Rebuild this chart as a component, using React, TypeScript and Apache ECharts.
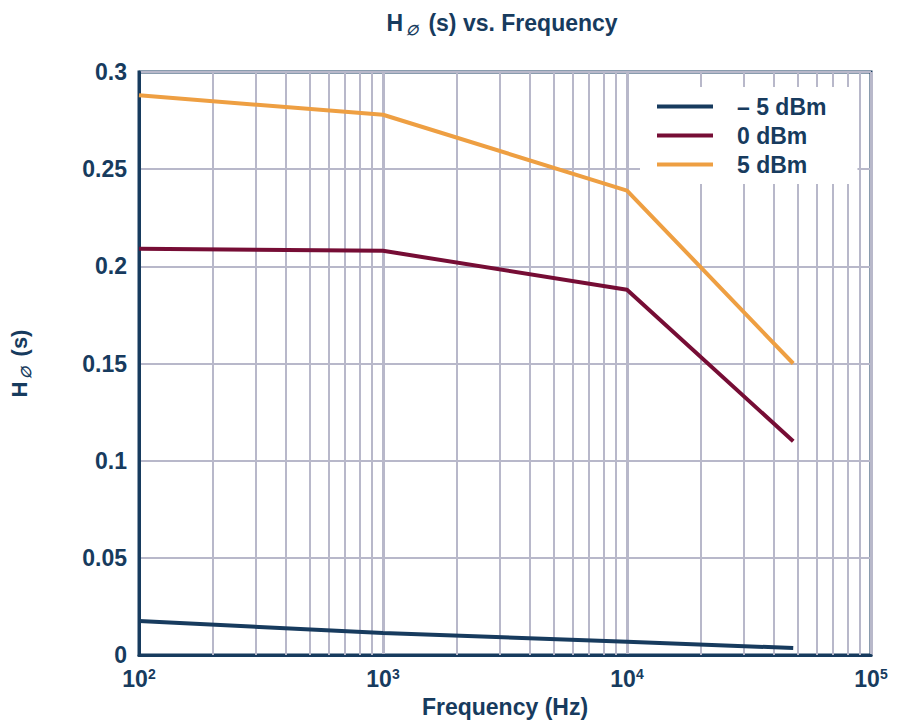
import { useRef, useEffect } from "react"
import * as echarts from "echarts"

const frequencies = [100, 1000, 10000, 48000]
const seriesNames = ["– 5 dBm", "0 dBm", "5 dBm"]
const minus5dBm = [0.0175, 0.0113, 0.0068, 0.0036]
const zero_dBm = [0.209, 0.208, 0.188, 0.11]
const plus5dBm = [0.288, 0.278, 0.239, 0.15]
const colors = ["#173b5e", "#760d35", "#ee9f42"]
const yTicks = [0, 0.05, 0.1, 0.15, 0.2, 0.25, 0.3]
// minor log gridlines: 2..9 in each decade
const minorGrid = [200, 300, 400, 500, 600, 700, 800, 900, 2000, 3000, 4000, 5000, 6000, 7000, 8000, 9000, 20000, 30000, 40000, 50000, 60000, 70000, 80000, 90000]

const navy = "#173b5e"
const gridGray = "#b8b8ca"
const font = "Liberation Sans, Arial, sans-serif"

export default function App() {
  const chartRef = useRef<HTMLDivElement>(null)

  useEffect(() => {
    if (!chartRef.current) return
    const chart = echarts.init(chartRef.current, null, { renderer: "svg" })

    const mkData = (vals: number[]) => frequencies.map((f, i) => [f, vals[i]])
    const allValues = [minus5dBm, zero_dBm, plus5dBm]

    const subStyle = { fontSize: 14, fontStyle: "italic", color: navy, verticalAlign: "bottom", padding: [14, 4, 0, 3] }

    const option = {
      animation: false,
      backgroundColor: "#fff",
      title: {
        text: "H{sub|∅} (s) vs. Frequency",
        left: 497,
        top: 4,
        textAlign: "center",
        textStyle: {
          fontFamily: font,
          fontSize: 23,
          fontWeight: "bold",
          color: navy,
          rich: { sub: subStyle },
        },
      },
      grid: {
        left: 139,
        right: 29,
        top: 72,
        bottom: 70,
        show: true,
        borderColor: navy,
        borderWidth: 3,
      },
      legend: {
        orient: "vertical",
        left: 640,
        top: 87,
        padding: [8, 31, 8, 17],
        backgroundColor: "#fff",
        icon: "rect",
        itemWidth: 56,
        itemHeight: 4,
        itemGap: 6,
        data: seriesNames,
        textStyle: {
          fontFamily: font,
          fontSize: 23,
          fontWeight: "bold",
          color: navy,
          padding: [0, 0, 0, 19],
        },
      },
      xAxis: {
        type: "log",
        logBase: 10,
        min: 100,
        max: 100000,
        name: "Frequency (Hz)",
        nameLocation: "middle",
        nameGap: 40,
        nameTextStyle: { fontFamily: font, fontSize: 23, fontWeight: "bold", color: navy },
        axisLine: { show: true, lineStyle: { color: navy, width: 3 } },
        axisTick: { show: false },
        axisLabel: {
          margin: 12,
          fontFamily: font,
          fontSize: 23,
          fontWeight: "bold",
          color: navy,
          formatter: (v: number) => `10{sup|${Math.round(Math.log10(v))}}`,
          rich: {
            sup: { fontSize: 14, fontWeight: "bold", color: navy, verticalAlign: "top", padding: [0, 0, 10, 0] },
          },
        },
        splitLine: { show: true, lineStyle: { color: gridGray, width: 3 } },
      },
      yAxis: {
        type: "value",
        min: 0,
        max: 0.3,
        interval: 0.05,
        name: "H{sub|∅} (s)",
        nameLocation: "middle",
        nameGap: 106,
        nameTextStyle: {
          fontFamily: font,
          fontSize: 22,
          fontWeight: "bold",
          color: navy,
          rich: { sub: subStyle },
        },
        axisLine: { show: true, lineStyle: { color: navy, width: 3 } },
        axisTick: { show: false },
        axisLabel: {
          margin: 12,
          fontFamily: font,
          fontSize: 23,
          fontWeight: "bold",
          color: navy,
          formatter: (v: number) => {
            const t = yTicks.find((y) => Math.abs(y - v) < 1e-9)
            return t === undefined ? "" : String(t)
          },
        },
        splitLine: { show: true, lineStyle: { color: gridGray, width: 2 } },
      },
      series: seriesNames.map((name, i) => ({
        name,
        type: "line",
        data: mkData(allValues[i]),
        symbol: "none",
        smooth: false,
        z: 5,
        lineStyle: { color: colors[i], width: 4 },
        itemStyle: { color: colors[i] },
        markLine:
          i === 0
            ? {
                silent: true,
                symbol: "none",
                z: 1,
                label: { show: false },
                lineStyle: { color: gridGray, width: 2, type: "solid" },
                data: minorGrid.map((x) => ({ xAxis: x })),
              }
            : undefined,
      })),
    }

    chart.setOption(option)
    return () => chart.dispose()
  }, [])

  return (
    <div
      ref={chartRef}
      style={{ position: "fixed", left: 0, top: 0, width: "900px", height: "725px" }}
    />
  )
}
